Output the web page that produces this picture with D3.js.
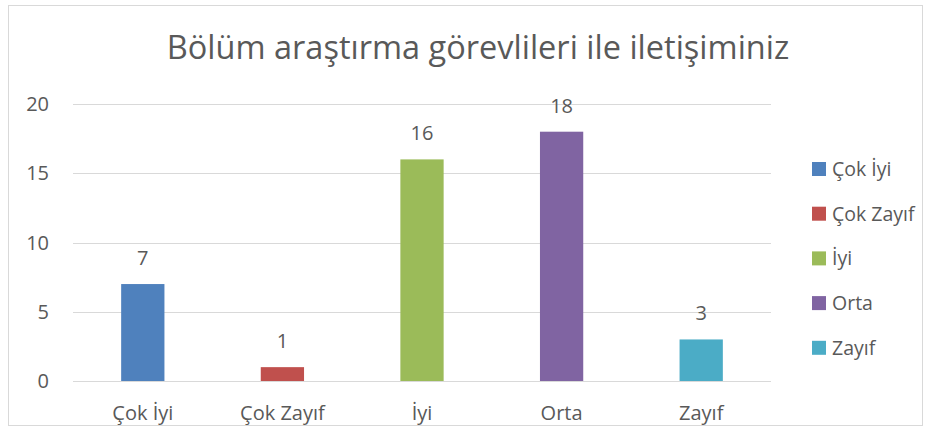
<!DOCTYPE html>
<meta charset="utf-8">
<style>
  body { margin: 0; background: white; }
  text { font-family: "Open Sans", "Liberation Sans", sans-serif; fill: #595959; }
</style>
<body>
<svg width="933" height="441"></svg>
<script src="https://d3js.org/d3.v7.min.js"></script>
<script>

// chart data
var categories = ["Çok İyi", "Çok Zayıf", "İyi", "Orta", "Zayıf"];
var values = [7, 1, 16, 18, 3];
var colors = ["#4F81BD", "#C0504D", "#9BBB59", "#8064A2", "#4BACC6"];
var yTicks = [0, 5, 10, 15, 20];
var title = "Bölüm araştırma görevlileri ile iletişiminiz";

var svg = d3.select("svg");

// outer frame of the chart
svg.append("rect")
  .attr("x", 8.5).attr("y", 5.5)
  .attr("width", 914).attr("height", 420)
  .attr("fill", "white")
  .attr("stroke", "#d9d9d9");

var x = d3.scaleBand().domain(categories).range([73, 771]).paddingInner(0.69).paddingOuter(0.345);
var y = d3.scaleLinear().domain([0, 20]).range([381, 104]);

// gridlines
svg.selectAll(".grid")
  .data(yTicks)
  .enter().append("line")
  .attr("x1", 73).attr("x2", 771)
  .attr("y1", d => Math.round(y(d)) + 0.5)
  .attr("y2", d => Math.round(y(d)) + 0.5)
  .attr("stroke", "#d9d9d9")
  .attr("stroke-width", 1);

// y labels
svg.selectAll(".ylab")
  .data(yTicks)
  .enter().append("text")
  .attr("x", 49)
  .attr("y", d => y(d))
  .attr("dy", "0.35em")
  .attr("text-anchor", "end")
  .style("font-size", "20px")
  .text(d => d);

// bars
svg.selectAll(".bar")
  .data(values)
  .enter().append("rect")
  .attr("x", (d, i) => x(categories[i]))
  .attr("width", x.bandwidth())
  .attr("y", d => y(d))
  .attr("height", d => y(0) - y(d))
  .attr("fill", (d, i) => colors[i]);

// value labels
svg.selectAll(".val")
  .data(values)
  .enter().append("text")
  .attr("x", (d, i) => x(categories[i]) + x.bandwidth() / 2)
  .attr("y", d => y(d) - 19)
  .attr("text-anchor", "middle")
  .style("font-size", "20px")
  .text(d => d);

// category labels
svg.selectAll(".cat")
  .data(categories)
  .enter().append("text")
  .attr("x", d => x(d) + x.bandwidth() / 2)
  .attr("y", 420)
  .attr("text-anchor", "middle")
  .style("font-size", "20px")
  .text(d => d);

// title
svg.append("text")
  .attr("x", 478)
  .attr("y", 59)
  .attr("text-anchor", "middle")
  .style("font-size", "32.5px")
  .text(title);

// legend
var legend = svg.selectAll(".legend")
  .data(categories)
  .enter().append("g")
  .attr("transform", (d, i) => "translate(812," + (169 + i * 44.7) + ")");

legend.append("rect")
  .attr("x", 0).attr("y", -7)
  .attr("width", 14).attr("height", 14)
  .attr("fill", (d, i) => colors[i]);

legend.append("text")
  .attr("x", 20)
  .attr("y", 0)
  .attr("dy", "0.35em")
  .style("font-size", "19.5px")
  .text(d => d);

</script>
</body>
